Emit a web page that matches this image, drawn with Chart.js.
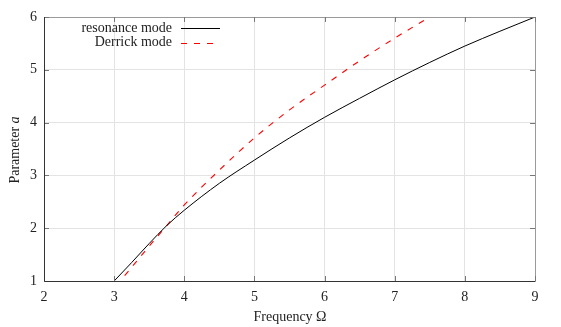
<!DOCTYPE html>
<html>
<head>
<meta charset="utf-8">
<script src="https://cdn.jsdelivr.net/npm/chart.js@4.4.1/dist/chart.umd.min.js"></script>
<style>
  html, body { margin: 0; padding: 0; background: #fff; }
  #wrap { width: 561px; height: 327px; }
</style>
</head>
<body>
<div id="wrap"><canvas id="myChart"></canvas></div>
<script>
// values
var omegaRes = [3.0, 3.25, 3.5, 3.75, 4.0, 4.5, 5.0, 5.5, 6.0, 6.5, 7.0, 7.5, 8.0, 8.5, 9.0];
var aRes     = [1.0, 1.35, 1.71, 2.05, 2.34, 2.85, 3.29, 3.71, 4.10, 4.46, 4.81, 5.14, 5.45, 5.73, 6.0];
var omegaDer = [3.15, 3.5, 3.75, 4.0, 4.5, 5.0, 5.5, 6.0, 6.5, 7.0, 7.5];
var aDer     = [1.10, 1.66, 2.05, 2.44, 3.10, 3.71, 4.24, 4.71, 5.17, 5.60, 6.00];
var xTicks = [2, 3, 4, 5, 6, 7, 8, 9];
var yTicks = [1, 2, 3, 4, 5, 6];

var FONT = "'Liberation Serif', 'DejaVu Serif', serif";

function toPoints(xs, ys) {
    var pts = [];
    for (var i = 0; i < xs.length; i++) {
        pts.push({ x: xs[i], y: ys[i] });
    }
    return pts;
}

// frame, inward ticks, legend and axis titles like the gnuplot original
var decorPlugin = {
    id: 'decor',
    afterDatasetsDraw: function (chart) {
        var ctx = chart.ctx;
        var area = chart.chartArea;
        var xs = chart.scales.x, ys = chart.scales.y;
        ctx.save();

        // top / right frame in grey
        ctx.strokeStyle = '#9a9a9a';
        ctx.lineWidth = 1;
        ctx.beginPath();
        ctx.moveTo(area.left, area.top + 0.5);
        ctx.lineTo(area.right + 0.5, area.top + 0.5);
        ctx.lineTo(area.right + 0.5, area.bottom);
        ctx.stroke();

        // inward ticks
        ctx.strokeStyle = '#777';
        ctx.beginPath();
        xTicks.forEach(function (v) {
            var px = Math.round(xs.getPixelForValue(v)) + 0.5;
            ctx.moveTo(px, area.bottom); ctx.lineTo(px, area.bottom - 5);
            ctx.moveTo(px, area.top); ctx.lineTo(px, area.top + 5);
        });
        yTicks.forEach(function (v) {
            var py = Math.round(ys.getPixelForValue(v)) + 0.5;
            ctx.moveTo(area.left, py); ctx.lineTo(area.left + 5, py);
            ctx.moveTo(area.right, py); ctx.lineTo(area.right - 5, py);
        });
        ctx.stroke();

        // left / bottom axis lines in dark grey
        ctx.strokeStyle = '#333';
        ctx.beginPath();
        ctx.moveTo(area.left + 0.5, area.top);
        ctx.lineTo(area.left + 0.5, area.bottom + 0.5);
        ctx.lineTo(area.right + 0.5, area.bottom + 0.5);
        ctx.stroke();

        // legend
        ctx.font = '14px ' + FONT;
        ctx.textAlign = 'right';
        ctx.textBaseline = 'middle';
        chart.data.datasets.forEach(function (ds, i) {
            var y = 28 + i * 14.5;
            ctx.fillStyle = '#222';
            ctx.fillText(ds.label, 172, y);
            ctx.strokeStyle = ds.borderColor;
            ctx.lineWidth = ds.borderWidth;
            ctx.setLineDash(ds.borderDash || []);
            ctx.beginPath();
            ctx.moveTo(181, Math.round(y) + 0.5);
            ctx.lineTo(ds.borderDash ? 214 : 220, Math.round(y) + 0.5);
            ctx.stroke();
            ctx.setLineDash([]);
        });

        // x title
        ctx.fillStyle = '#222';
        ctx.textAlign = 'center';
        ctx.textBaseline = 'middle';
        ctx.fillText('Frequency \u03A9', 290, 317);

        // y title with italic a
        ctx.translate(15, 150);
        ctx.rotate(-Math.PI / 2);
        var t1 = 'Parameter ';
        ctx.font = '14px ' + FONT;
        var w1 = ctx.measureText(t1).width;
        ctx.font = 'italic 14px ' + FONT;
        var w2 = ctx.measureText('a').width;
        var start = -(w1 + w2) / 2;
        ctx.textAlign = 'left';
        ctx.font = '14px ' + FONT;
        ctx.fillText(t1, start, 0);
        ctx.font = 'italic 14px ' + FONT;
        ctx.fillText('a', start + w1, 0);

        ctx.restore();
    }
};

var ctx = document.getElementById('myChart').getContext('2d');
window.myChart = new Chart(ctx, {
    type: 'line',
    data: {
        datasets: [
            {
                label: 'resonance mode',
                data: toPoints(omegaRes, aRes),
                borderColor: '#000000',
                borderWidth: 1,
                pointRadius: 0,
                cubicInterpolationMode: 'monotone',
                fill: false
            },
            {
                label: 'Derrick mode',
                data: toPoints(omegaDer, aDer),
                borderColor: '#ff0000',
                borderWidth: 1.1,
                borderDash: [6, 7],
                pointRadius: 0,
                cubicInterpolationMode: 'monotone',
                fill: false
            }
        ]
    },
    options: {
        responsive: true,
        maintainAspectRatio: false,
        animation: false,
        layout: { padding: { top: 17, right: 26, left: 0, bottom: 0 } },
        plugins: {
            legend: { display: false },
            tooltip: { enabled: false }
        },
        scales: {
            x: {
                type: 'linear',
                min: 2,
                max: 9,
                afterBuildTicks: function (scale) {
                    scale.ticks = xTicks.map(function (v) { return { value: v }; });
                },
                afterFit: function (scale) { scale.height = 46; },
                grid: { color: '#e3e3e3', drawTicks: false },
                border: { display: false },
                ticks: {
                    padding: 8,
                    color: '#222',
                    font: { family: FONT, size: 14 }
                }
            },
            y: {
                type: 'linear',
                min: 1,
                max: 6,
                afterBuildTicks: function (scale) {
                    scale.ticks = yTicks.map(function (v) { return { value: v }; });
                },
                afterFit: function (scale) { scale.width = 44; },
                grid: { color: '#e3e3e3', drawTicks: false },
                border: { display: false },
                ticks: {
                    padding: 7,
                    color: '#222',
                    font: { family: FONT, size: 14 }
                }
            }
        }
    },
    plugins: [decorPlugin]
});
</script>
</body>
</html>
